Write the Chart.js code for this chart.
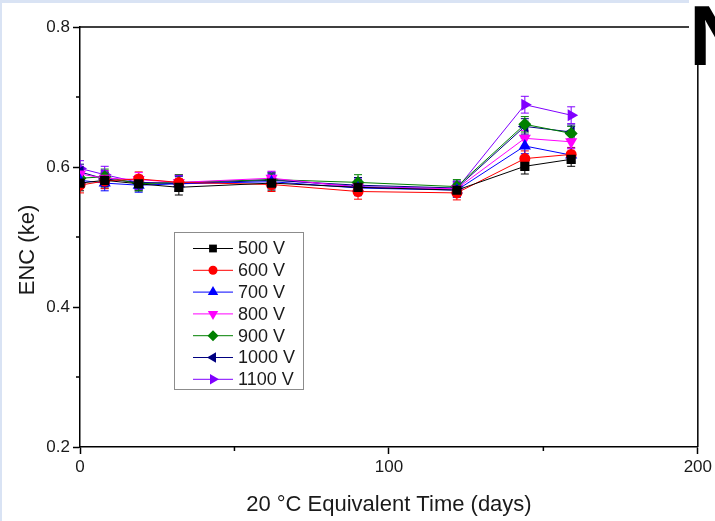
<!DOCTYPE html>
<html>
<head>
<meta charset="utf-8">
<title>ENC vs equivalent time</title>
<script src="https://cdn.jsdelivr.net/npm/chart.js@4.4.1/dist/chart.umd.min.js"></script>
<style>
    html, body {
        margin: 0;
        padding: 0;
        width: 715px;
        height: 521px;
        overflow: hidden;
        background: #d9e3f4;
        font-family: "Liberation Sans", Arial, sans-serif;
    }
    #box {
        position: absolute;
        left: 2px;
        top: 3px;
        width: 713px;
        height: 518px;
        background: #ffffff;
    }
    #slide-letter {
        position: absolute;
        left: 689px;
        top: -8px;
        height: 73px;
        overflow: hidden;
        font-family: "Liberation Sans", Arial, sans-serif;
        font-weight: bold;
        font-size: 86px;
        line-height: 86px;
        color: #000000;
        background: #ffffff;
        padding-right: 20px;
    }
</style>
</head>
<body>
<div id="box">
    <canvas id="myChart" width="713" height="518"></canvas>
</div>
<div id="slide-letter">N</div>

<script>
// days at which ENC was measured
var days = [0, 8, 19, 32, 62, 90, 122, 144, 159];

var voltages = ['500 V', '600 V', '700 V', '800 V', '900 V', '1000 V', '1100 V'];

// ENC (ke) per bias voltage
var enc500 = [0.577, 0.581, 0.576, 0.571, 0.577, 0.571, 0.567, 0.601, 0.611];
var enc600 = [0.574, 0.580, 0.583, 0.578, 0.575, 0.565, 0.563, 0.612, 0.618];
var enc700 = [0.581, 0.577, 0.574, 0.576, 0.579, 0.570, 0.567, 0.630, 0.617];
var enc800 = [0.590, 0.584, 0.582, 0.578, 0.584, 0.571, 0.569, 0.641, 0.636];
var enc900 = [0.584, 0.586, 0.576, 0.578, 0.582, 0.578, 0.572, 0.661, 0.648];
var enc1000 = [0.593, 0.583, 0.578, 0.576, 0.581, 0.574, 0.570, 0.658, 0.650];
var enc1100 = [0.598, 0.589, 0.578, 0.577, 0.582, 0.572, 0.569, 0.689, 0.674];

// error bars (+/-)
var err500 = [0.011, 0.011, 0.010, 0.011, 0.010, 0.011, 0.010, 0.011, 0.010];
var err600 = [0.011, 0.011, 0.010, 0.011, 0.010, 0.011, 0.010, 0.011, 0.010];
var err700 = [0.011, 0.011, 0.010, 0.011, 0.010, 0.011, 0.010, 0.011, 0.010];
var err800 = [0.011, 0.011, 0.010, 0.011, 0.010, 0.011, 0.010, 0.011, 0.010];
var err900 = [0.011, 0.011, 0.010, 0.011, 0.010, 0.011, 0.010, 0.011, 0.010];
var err1000 = [0.011, 0.011, 0.010, 0.011, 0.010, 0.011, 0.010, 0.011, 0.010];
var err1100 = [0.011, 0.012, 0.010, 0.011, 0.011, 0.011, 0.010, 0.012, 0.012];

var xTicks = [0, 50, 100, 150, 200];
var yTicks = [0.2, 0.3, 0.4, 0.5, 0.6, 0.7, 0.8];
var xLabels = ['0', '', '100', '', '200'];
var yLabels = ['0.2', '', '0.4', '', '0.6', '', '0.8'];

var colori = ['#000000', '#ff0000', '#0000ff', '#ff00ff', '#008000', '#000080', '#8000ff'];
var simboli = ['rect', 'circle', 'triangle', 'triangle', 'rectRot', 'triangle', 'triangle'];
var rotazioni = [0, 0, 0, 180, 0, -90, 90];
var raggi = [6.5, 5.5, 7, 7, 6.5, 7, 7];

var serie = [enc500, enc600, enc700, enc800, enc900, enc1000, enc1100];
var errori = [err500, err600, err700, err800, err900, err1000, err1100];

function punti(valori) {
    var out = [];
    for (var i = 0; i < days.length; i++) {
        out.push({ x: days[i], y: valori[i] });
    }
    return out;
}

var datasets = [];
for (var s = 0; s < serie.length; s++) {
    datasets.push({
        label: voltages[s],
        data: punti(serie[s]),
        errors: errori[s],
        borderColor: colori[s],
        backgroundColor: colori[s],
        borderWidth: 1,
        pointStyle: simboli[s],
        pointRotation: rotazioni[s],
        pointRadius: raggi[s],
        pointBorderWidth: 0,
        tension: 0
    });
}

// error bars drawn with the library scales
var errorBars = {
    id: 'errorBars',
    beforeDatasetsDraw: function (chart) {
        var ctx = chart.ctx;
        var yScale = chart.scales.y;
        var area = chart.chartArea;
        ctx.save();
        ctx.beginPath();
        ctx.rect(area.left, area.top - 2, area.right - area.left, area.bottom - area.top + 4);
        ctx.clip();
        chart.data.datasets.forEach(function (ds, i) {
            var meta = chart.getDatasetMeta(i);
            ctx.strokeStyle = ds.borderColor;
            ctx.lineWidth = 1;
            meta.data.forEach(function (p, j) {
                var v = ds.data[j].y;
                var e = ds.errors[j];
                var yTop = yScale.getPixelForValue(v + e);
                var yBot = yScale.getPixelForValue(v - e);
                ctx.beginPath();
                ctx.moveTo(p.x, yTop);
                ctx.lineTo(p.x, yBot);
                ctx.moveTo(p.x - 4, yTop);
                ctx.lineTo(p.x + 4, yTop);
                ctx.moveTo(p.x - 4, yBot);
                ctx.lineTo(p.x + 4, yBot);
                ctx.stroke();
            });
        });
        ctx.restore();
    }
};

// frame, minor ticks, y title and the boxed legend
var cornice = {
    id: 'cornice',
    afterDraw: function (chart) {
        var ctx = chart.ctx;
        var a = chart.chartArea;
        var xs = chart.scales.x;
        var ys = chart.scales.y;
        ctx.save();
        ctx.strokeStyle = '#000000';
        ctx.lineWidth = 1.5;
        ctx.beginPath();
        ctx.moveTo(a.left, a.top);
        ctx.lineTo(a.right, a.top);
        ctx.lineTo(a.right, a.bottom);
        ctx.stroke();

        // minor ticks
        ctx.lineWidth = 1.5;
        ctx.beginPath();
        [50, 150].forEach(function (d) {
            var px = xs.getPixelForValue(d);
            ctx.moveTo(px, a.bottom);
            ctx.lineTo(px, a.bottom + 4);
        });
        [0.3, 0.5, 0.7].forEach(function (v) {
            var py = ys.getPixelForValue(v);
            ctx.moveTo(a.left, py);
            ctx.lineTo(a.left - 4, py);
        });
        ctx.stroke();

        // y title, a bit below the middle like in the original
        ctx.save();
        ctx.translate(26, 247);
        ctx.rotate(-Math.PI / 2);
        ctx.font = '22px "Liberation Sans", Arial, sans-serif';
        ctx.fillStyle = '#1a1a1a';
        ctx.textAlign = 'center';
        ctx.textBaseline = 'middle';
        ctx.fillText('ENC (ke)', 0, 0);
        ctx.restore();

        // legend
        ctx.fillStyle = '#ffffff';
        ctx.fillRect(172, 229, 129, 157);
        ctx.strokeStyle = '#8c8c8c';
        ctx.lineWidth = 1;
        ctx.strokeRect(172.5, 229.5, 129, 157);
        ctx.font = '18px "Liberation Sans", Arial, sans-serif';
        ctx.textBaseline = 'middle';
        ctx.textAlign = 'left';
        chart.data.datasets.forEach(function (ds, i) {
            var yy = 245.5 + i * 21.8;
            ctx.strokeStyle = ds.borderColor;
            ctx.lineWidth = 1;
            ctx.beginPath();
            ctx.moveTo(191, yy);
            ctx.lineTo(231, yy);
            ctx.stroke();
            ctx.fillStyle = ds.backgroundColor;
            Chart.helpers.drawPoint(ctx, {
                pointStyle: ds.pointStyle,
                rotation: ds.pointRotation,
                radius: ds.pointRadius - 1,
                borderWidth: 0
            }, 211, yy);
            ctx.fillStyle = '#1a1a1a';
            ctx.fillText(ds.label, 236, yy + 1);
        });
        ctx.restore();
    }
};

var ctx = document.getElementById('myChart');
var chart = new Chart(ctx, {
    type: 'line',
    data: {
        datasets: datasets
    },
    options: {
        responsive: false,
        animation: false,
        layout: {
            padding: { top: 24, right: 17, left: 0, bottom: 0 }
        },
        plugins: {
            legend: { display: false },
            tooltip: { enabled: false }
        },
        scales: {
            x: {
                type: 'linear',
                min: 0,
                max: 200,
                afterFit: function (scale) { scale.height = 74; },
                afterBuildTicks: function (scale) {
                    scale.ticks = xTicks.map(function (v) { return { value: v }; });
                },
                border: { color: '#000000', width: 1.5 },
                grid: {
                    drawOnChartArea: false,
                    tickLength: 7,
                    tickWidth: 1.5,
                    tickColor: function (c) {
                        return xLabels[xTicks.indexOf(c.tick.value)] === '' ? 'rgba(0,0,0,0)' : '#000000';
                    }
                },
                ticks: {
                    padding: 3,
                    maxRotation: 0,
                    color: '#1a1a1a',
                    font: { family: '"Liberation Sans", Arial, sans-serif', size: 17 },
                    callback: function (value) {
                        var k = xTicks.indexOf(value);
                        return k >= 0 ? xLabels[k] : '';
                    }
                },
                title: {
                    display: true,
                    text: '20 °C Equivalent Time (days)',
                    color: '#1a1a1a',
                    font: { family: '"Liberation Sans", Arial, sans-serif', size: 22, lineHeight: 1.2 },
                    padding: { top: 0, bottom: 3 }
                }
            },
            y: {
                type: 'linear',
                min: 0.2,
                max: 0.8,
                afterFit: function (scale) { scale.width = 78; },
                afterBuildTicks: function (scale) {
                    scale.ticks = yTicks.map(function (v) { return { value: v }; });
                },
                border: { color: '#000000', width: 1.5 },
                grid: {
                    drawOnChartArea: false,
                    tickLength: 7,
                    tickWidth: 1.5,
                    tickColor: function (c) {
                        var k = yTicks.findIndex(function (v) { return Math.abs(v - c.tick.value) < 1e-6; });
                        return yLabels[k] === '' ? 'rgba(0,0,0,0)' : '#000000';
                    }
                },
                ticks: {
                    padding: 3,
                    color: '#1a1a1a',
                    font: { family: '"Liberation Sans", Arial, sans-serif', size: 17 },
                    callback: function (value) {
                        var k = yTicks.findIndex(function (v) { return Math.abs(v - value) < 1e-6; });
                        return k >= 0 ? yLabels[k] : '';
                    }
                },
                title: { display: false }
            }
        }
    },
    plugins: [errorBars, cornice]
});
</script>
</body>
</html>
